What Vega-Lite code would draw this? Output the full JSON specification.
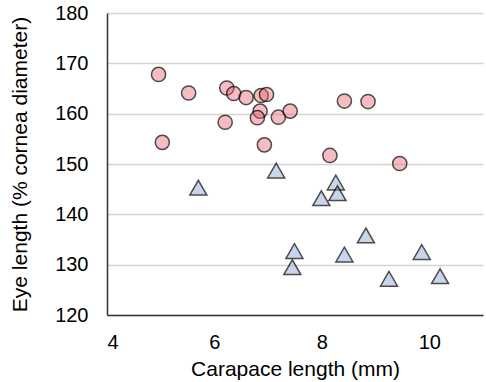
{
  "$schema": "https://vega.github.io/schema/vega-lite/v6.json",
  "width": 376,
  "height": 302,
  "autosize": {"type": "none"},
  "padding": {"left": 107, "top": 13, "right": 3, "bottom": 67},
  "config": {
    "view": {"stroke": null},
    "font": "Liberation Sans",
    "axis": {
      "labelFont": "Liberation Sans",
      "titleFont": "Liberation Sans",
      "labelFontSize": 20,
      "titleFontSize": 21,
      "titleFontWeight": "normal",
      "labelColor": "#000000",
      "titleColor": "#000000",
      "domainColor": "#333333",
      "domainWidth": 1.5,
      "tickColor": "#333333",
      "tickWidth": 1.5
    }
  },
  "data": {
    "values": [
      {"carapace": 4.96, "eye": 167.8, "group": "A"},
      {"carapace": 5.03, "eye": 154.3, "group": "A"},
      {"carapace": 5.52, "eye": 164.1, "group": "A"},
      {"carapace": 6.23, "eye": 165.1, "group": "A"},
      {"carapace": 6.36, "eye": 164.0, "group": "A"},
      {"carapace": 6.59, "eye": 163.2, "group": "A"},
      {"carapace": 6.20, "eye": 158.3, "group": "A"},
      {"carapace": 6.87, "eye": 163.6, "group": "A"},
      {"carapace": 6.97, "eye": 163.8, "group": "A"},
      {"carapace": 6.85, "eye": 160.5, "group": "A"},
      {"carapace": 6.80, "eye": 159.2, "group": "A"},
      {"carapace": 6.93, "eye": 153.8, "group": "A"},
      {"carapace": 7.19, "eye": 159.3, "group": "A"},
      {"carapace": 7.41, "eye": 160.5, "group": "A"},
      {"carapace": 8.42, "eye": 162.5, "group": "A"},
      {"carapace": 8.86, "eye": 162.4, "group": "A"},
      {"carapace": 8.15, "eye": 151.7, "group": "A"},
      {"carapace": 9.45, "eye": 150.1, "group": "A"},
      {"carapace": 5.70, "eye": 145.3, "group": "B"},
      {"carapace": 7.15, "eye": 148.7, "group": "B"},
      {"carapace": 8.26, "eye": 146.3, "group": "B"},
      {"carapace": 8.29, "eye": 144.2, "group": "B"},
      {"carapace": 7.99, "eye": 143.2, "group": "B"},
      {"carapace": 8.82, "eye": 135.8, "group": "B"},
      {"carapace": 7.49, "eye": 132.7, "group": "B"},
      {"carapace": 7.45, "eye": 129.5, "group": "B"},
      {"carapace": 8.42, "eye": 132.0, "group": "B"},
      {"carapace": 9.86, "eye": 132.5, "group": "B"},
      {"carapace": 9.25, "eye": 127.2, "group": "B"},
      {"carapace": 10.20, "eye": 127.7, "group": "B"}
    ]
  },
  "mark": {"type": "point", "filled": true, "stroke": "#000000", "strokeWidth": 1.5, "strokeOpacity": 1},
  "encoding": {
    "x": {
      "field": "carapace",
      "type": "quantitative",
      "scale": {"domain": [4, 11], "nice": false, "zero": false},
      "axis": {"values": [4, 6, 8, 10], "grid": false, "ticks": false, "title": "Carapace length (mm)", "labelPadding": 17, "titlePadding": 6}
    },
    "y": {
      "field": "eye",
      "type": "quantitative",
      "scale": {"domain": [120, 180], "nice": false, "zero": false},
      "axis": {"values": [120, 130, 140, 150, 160, 170, 180], "grid": true, "gridColor": "#d4d4d4", "gridWidth": 1.5, "ticks": false, "title": "Eye length (% cornea diameter)", "labelPadding": 19, "titlePadding": 24}
    },
    "shape": {"field": "group", "type": "nominal", "scale": {"domain": ["A", "B"], "range": ["circle", "triangle-up"]}, "legend": null},
    "fill": {"field": "group", "type": "nominal", "scale": {"domain": ["A", "B"], "range": ["#ed616e", "#8eaed8"]}, "legend": null},
    "fillOpacity": {"field": "group", "type": "nominal", "scale": {"domain": ["A", "B"], "range": [0.6, 0.7]}, "legend": null},
    "size": {"field": "group", "type": "nominal", "scale": {"domain": ["A", "B"], "range": [200, 290]}, "legend": null}
  }
}
